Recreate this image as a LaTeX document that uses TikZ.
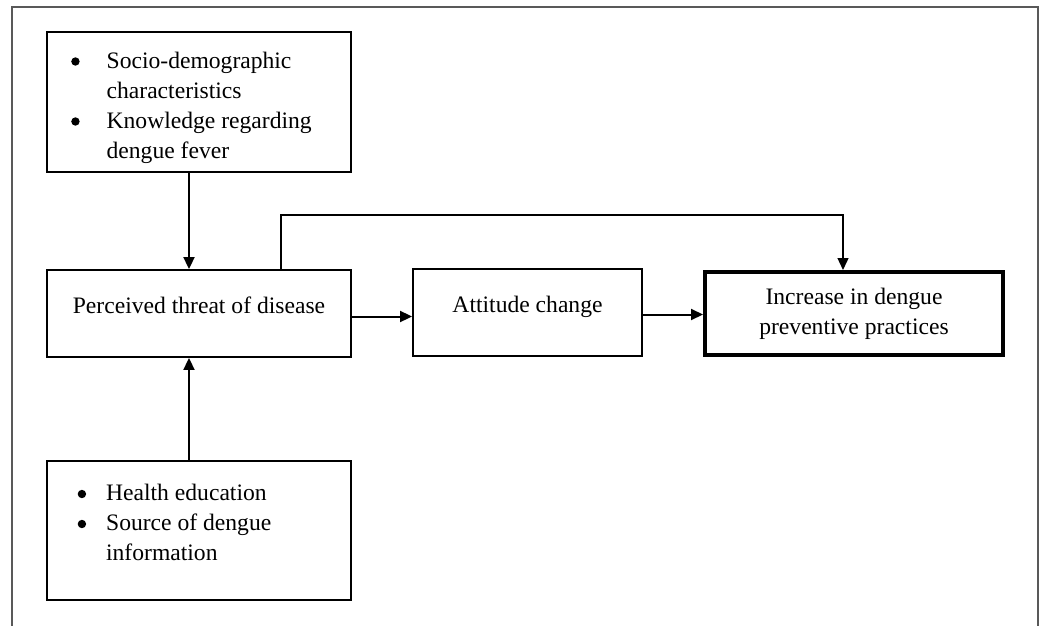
\documentclass[tikz,border=0pt]{standalone}
\usepackage{fontspec}
\setmainfont{Liberation Serif}
\usetikzlibrary{arrows.meta}

\newcommand{\bul}{\tikz[baseline=-6.5pt]\fill (0,0) circle (4.2pt);}
\tikzset{
  box/.style={draw, line width=1.9pt, minimum width=304pt, minimum height=87pt, inner sep=0pt, font=\fontsize{23.6}{30}\selectfont},
  oneline/.style={text height=12pt, text depth=12pt},
  flow/.style={line width=2pt, -{Triangle[length=12pt,width=11pt]}},
}

\begin{document}
\begin{tikzpicture}[x=1pt,y=-1pt]
\useasboundingbox (0,0) rectangle (1041,626);
%\draw[step=50,gray,very thin] (0,0) grid (1041,626); %background grid
\draw[black!65,line width=1.2pt] (12,626) -- (12,7) -- (1038,7) -- (1038,626); % frame

% boxes
\node[box,minimum height=140pt] (factors) at (199,102) {\raisebox{-5pt}[\height][\depth]{\begin{tabular}{@{}l@{\hspace{27pt}}l@{}}
 \bul & Socio-demographic\\
      & characteristics\\
 \bul & Knowledge regarding\\
      & dengue fever
 \end{tabular}}\rule{15pt}{0pt}};
\node[box,oneline] (threat) at (199,313.5) {Perceived threat of disease};
\node[box,oneline,minimum width=229pt] (attitude) at (527.5,312.5) {Attitude change};
\node[box,line width=4pt,minimum width=298pt,minimum height=83pt,align=center] (practice) at (854,313.5) {Increase in dengue\\preventive practices};
\node[box,minimum height=139pt] (sources) at (199,530.5) {\raisebox{6pt}[\height][\depth]{\begin{tabular}{@{}l@{\hspace{20pt}}l@{}}
 \bul & Health education\\
 \bul & Source of dengue\\
      & information
 \end{tabular}}\rule{49pt}{0pt}};

% arrows
\draw[flow] ([xshift=-10pt]factors.south) -- ([xshift=-10pt]threat.north);
\draw[flow] ([xshift=-10pt]sources.north) -- ([xshift=-10pt]threat.south);
\draw[flow] ([yshift=-3pt]threat.east) -- ([yshift=-3pt]threat.east -| attitude.west);
\draw[flow] ([yshift=-2pt]attitude.east) -- ([yshift=-2pt]attitude.east -| practice.west);

\coordinate (over) at (560,215); % bypass line
\draw[line width=1.3pt,-{Triangle[length=12pt,width=11pt]}] ([xshift=82pt]threat.north) |- (over) -| ([xshift=-11pt]practice.north);
\end{tikzpicture}
\end{document}
